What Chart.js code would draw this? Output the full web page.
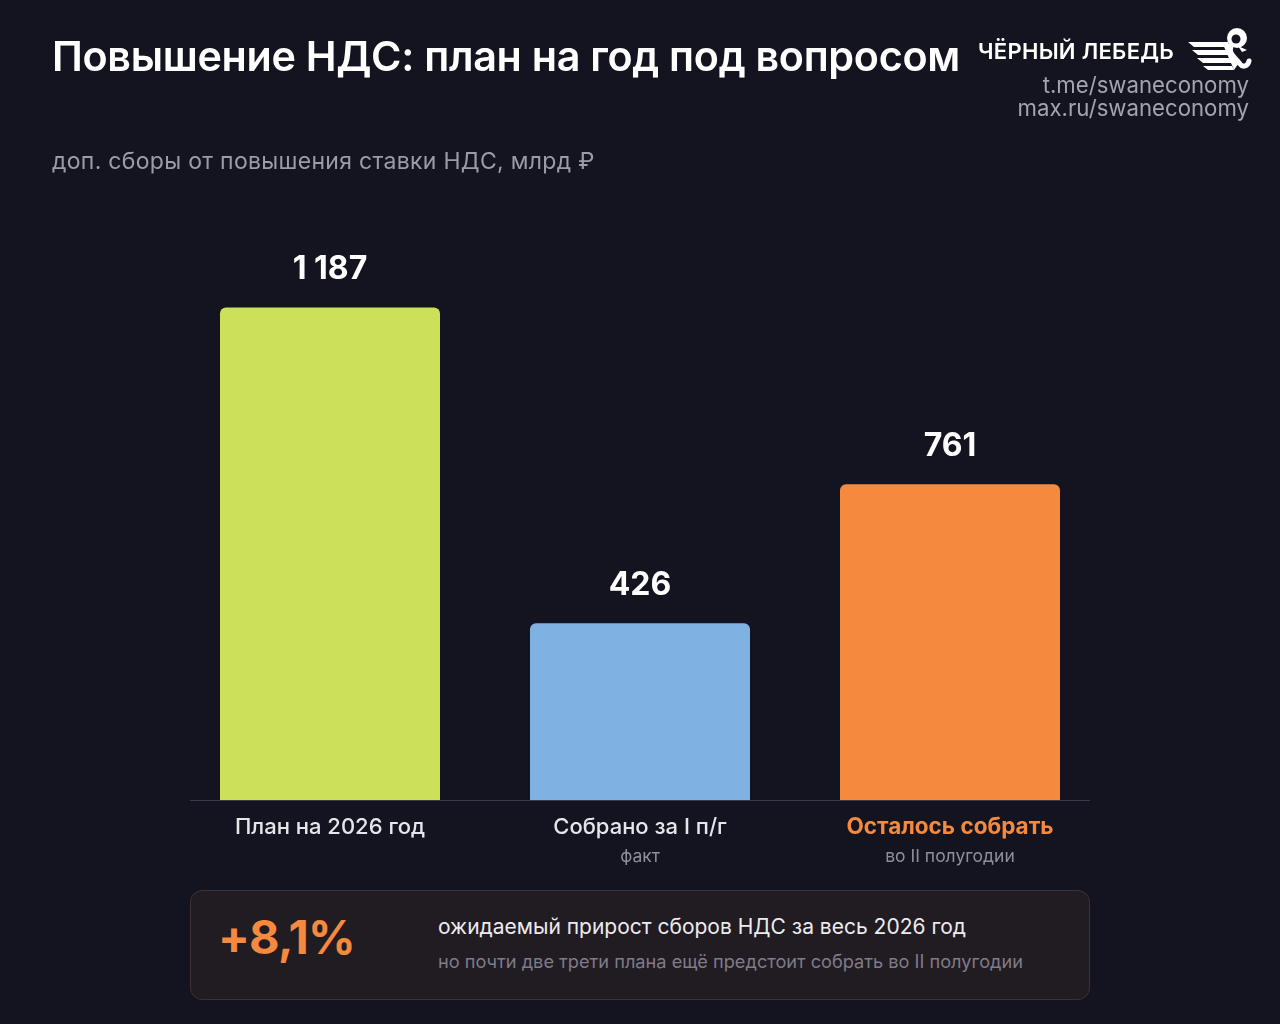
<!DOCTYPE html>
<html lang="ru">
<head>
<meta charset="utf-8">
<script src="https://cdn.jsdelivr.net/npm/chart.js@4.4.1/dist/chart.umd.min.js"></script>
<style>
  html,body{margin:0;padding:0;background:#13141f;width:1280px;height:1024px;overflow:hidden;font-family:Inter,"Noto Sans",sans-serif;}
  #wrap{position:relative;width:1280px;height:1024px;}
  canvas{position:absolute;left:0;top:0;}
  .t{position:absolute;white-space:nowrap;}
  #title{left:52px;top:31px;font-size:41.3px;font-weight:600;color:#ffffff;letter-spacing:-0.3px;}
  #sub{left:52px;top:147px;font-size:23px;color:#9b9ca6;letter-spacing:0.3px;}
  #brand{left:978px;top:38px;font-size:22px;font-weight:600;color:#ffffff;letter-spacing:0.3px;}
  .link{right:31px;font-size:22.2px;color:#a3a4ae;}
  #l1{top:71px;}
  #l2{top:94px;}
  #logo{position:absolute;left:1186px;top:24px;}
  #box{position:absolute;left:190px;top:890px;width:898px;height:108px;border:1px solid #3d3237;border-radius:12px;background:#211b22;}
  #pct{left:218px;top:908px;font-size:47px;font-weight:700;color:#f5893d;letter-spacing:-0.8px;}
  #b1{left:438px;top:914px;font-size:21px;color:#ecebef;}
  #b2{left:438px;top:950px;font-size:18.2px;color:#7f7c88;}
</style>
</head>
<body>
<div id="wrap">
  <canvas id="c" width="1280" height="1024"></canvas>
  <div class="t" id="title">Повышение НДС: план на год под вопросом</div>
  <div class="t" id="sub">доп. сборы от повышения ставки НДС, млрд ₽</div>
  <div class="t" id="brand">ЧЁРНЫЙ ЛЕБЕДЬ</div>
  <div class="t link" id="l1">t.me/swaneconomy</div>
  <div class="t link" id="l2">max.ru/swaneconomy</div>
  <svg id="logo" width="68" height="50" viewBox="0 0 68 50">
    <g fill="#ffffff">
      <path d="M2 18 L36 18 L40 23 L8 23 Z"/>
      <path d="M6 26 L40 26 L43 31 L12 31 Z"/>
      <path d="M11 34 L43 34 L46 39 L17 39 Z"/>
      <path d="M17 42 L46 42 L48 46 L22 46 Z"/>
      <path d="M36 18 L42 18 L52 40 L48 46 Z"/>
      <circle cx="51" cy="14" r="10"/>
    </g>
    <circle cx="50" cy="15" r="4.5" fill="#13141f"/>
    <path d="M45 22 C 42 30, 50 34, 54 40 C 57 44, 62 42, 63 37" stroke="#ffffff" stroke-width="5" fill="none" stroke-linecap="round"/>
    <path d="M52 22 L61 26 L56 28 Z" fill="#ffffff"/>
  </svg>
  <div id="box"></div>
  <div class="t" id="pct">+8,1%</div>
  <div class="t" id="b1">ожидаемый прирост сборов НДС за весь 2026 год</div>
  <div class="t" id="b2">но почти две трети плана ещё предстоит собрать во II полугодии</div>
</div>
<script>
const categories = ["План на 2026 год", "Собрано за I п/г", "Осталось собрать"];
const subLabels = ["", "факт", "во II полугодии"];
const values = [1187, 426, 761];
const valueLabels = ["1 187", "426", "761"];
const barColors = ["#cde05a", "#7fb2e2", "#f5893d"];
const labelColors = ["#e6e6ea", "#e6e6ea", "#f5893d"];
const labelWeights = ["500", "500", "700"];

const labelsPlugin = {
  id: "customLabels",
  beforeDatasetsDraw(chart) {
    const ctx = chart.ctx;
    const bottom = chart.chartArea.bottom;
    ctx.save();
    ctx.strokeStyle = "#3a3b4a";
    ctx.lineWidth = 1;
    ctx.beginPath();
    ctx.moveTo(190, bottom + 0.5);
    ctx.lineTo(1090, bottom + 0.5);
    ctx.stroke();
    ctx.restore();
  },
  afterDatasetsDraw(chart) {
    const ctx = chart.ctx;
    const meta = chart.getDatasetMeta(0);
    const xs = chart.scales.x;
    ctx.save();
    ctx.textAlign = "center";
    meta.data.forEach((bar, i) => {
      ctx.fillStyle = "#ffffff";
      ctx.font = "700 32px Inter, 'Noto Sans', sans-serif";
      ctx.textBaseline = "middle";
      ctx.fillText(valueLabels[i], bar.x, bar.y - 38);
      const x = xs.getPixelForValue(i);
      ctx.fillStyle = labelColors[i];
      ctx.font = labelWeights[i] + " " + (i === 2 ? "22.5px" : "22px") + " Inter, 'Noto Sans', sans-serif";
      ctx.fillText(categories[i], x, 827);
      if (subLabels[i]) {
        ctx.fillStyle = "#8e8f9a";
        ctx.font = "400 17.5px Inter, 'Noto Sans', sans-serif";
        ctx.fillText(subLabels[i], x, 857);
      }
    });
    ctx.restore();
  }
};

new Chart(document.getElementById("c"), {
  type: "bar",
  data: {
    labels: categories,
    datasets: [{
      data: values,
      backgroundColor: barColors,
      borderRadius: {topLeft: 6, topRight: 6, bottomLeft: 0, bottomRight: 0},
      borderSkipped: "bottom",
      categoryPercentage: 1.0,
      barPercentage: 0.7097
    }]
  },
  options: {
    responsive: false,
    animation: false,
    devicePixelRatio: 1,
    layout: {padding: {left: 175, right: 175, top: 219, bottom: 224}},
    plugins: {legend: {display: false}, tooltip: {enabled: false}},
    scales: {
      x: {
        grid: {display: false, drawTicks: false},
        border: {display: false},
        ticks: {display: false}
      },
      y: {
        display: false,
        min: 0,
        max: 1400
      }
    }
  },
  plugins: [labelsPlugin]
});
</script>
</body>
</html>
